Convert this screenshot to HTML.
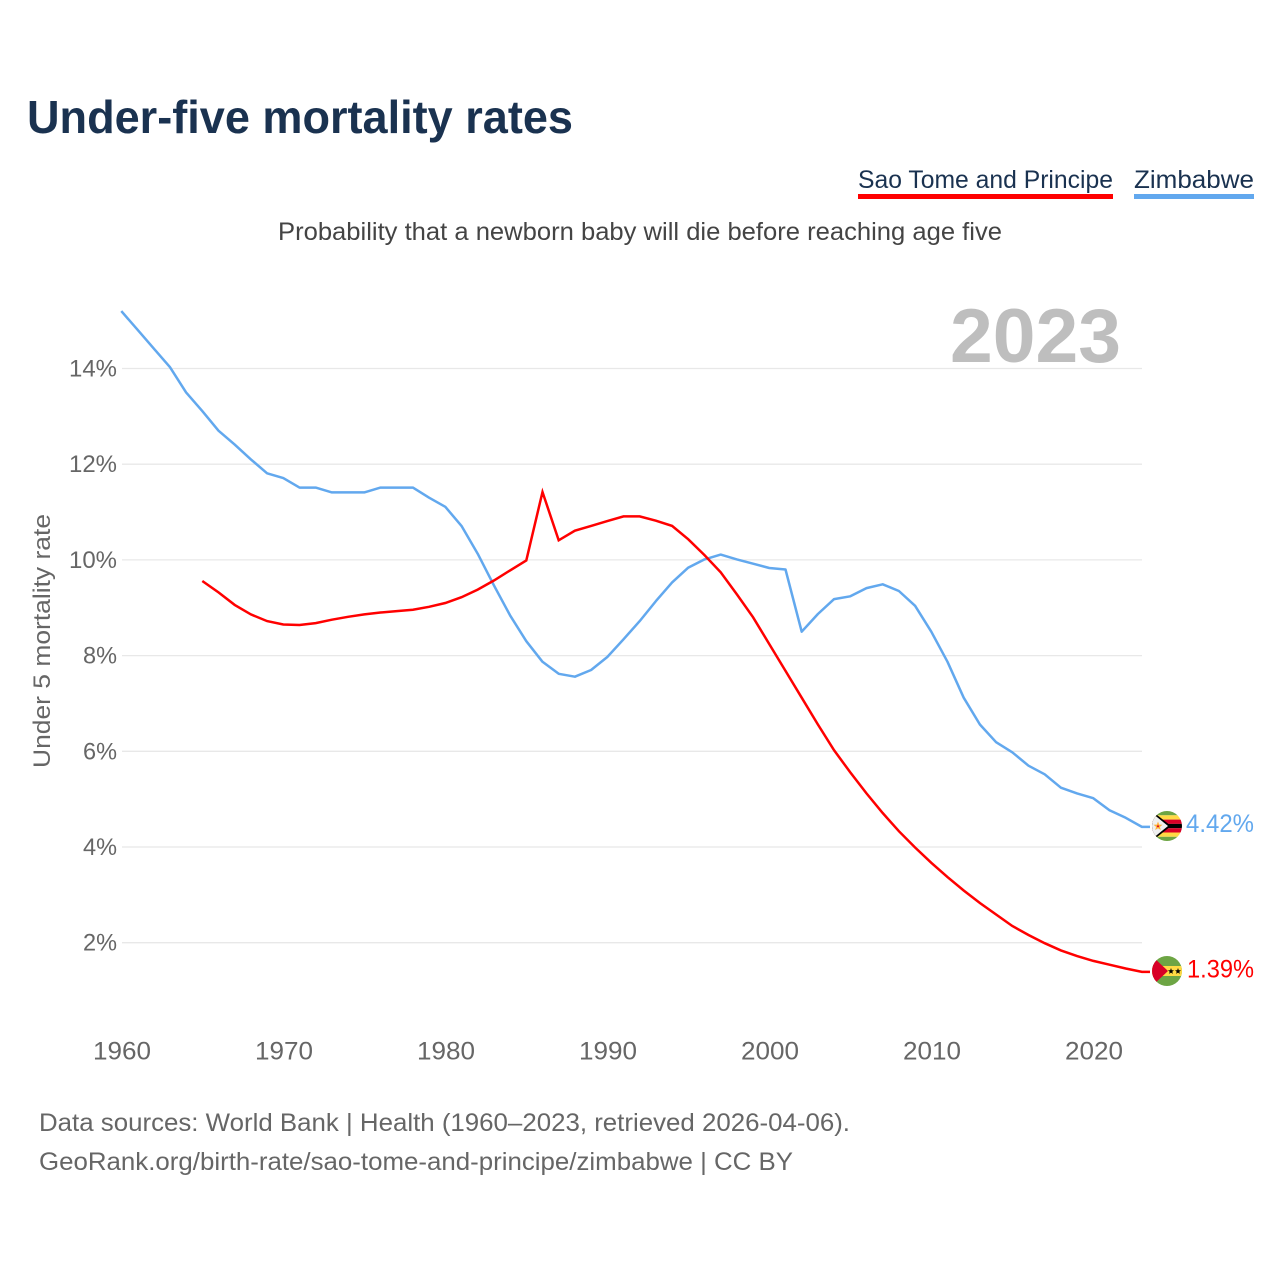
<!DOCTYPE html>
<html lang="en">
<head>
<meta charset="utf-8">
<title>Under-five mortality rates</title>
<style>
html,body{margin:0;padding:0;background:#fff;width:1280px;height:1280px;overflow:hidden}
svg{display:block}
text{font-family:"Liberation Sans",sans-serif}
</style>
</head>
<body>
<svg id="chart" xmlns="http://www.w3.org/2000/svg" width="1280" height="1280" viewBox="0 0 1280 1280">
  <defs>
    <clipPath id="clip-zw"><circle cx="1167" cy="826" r="15"/></clipPath>
    <clipPath id="clip-st"><circle cx="1167" cy="971" r="15"/></clipPath>
  </defs>
  <text x="27" y="133" font-size="46" font-weight="700" fill="#1a3250" textLength="546" lengthAdjust="spacingAndGlyphs">Under-five mortality rates</text>

  <g>
    <text x="858" y="188" font-size="25" fill="#1a3250" textLength="255" lengthAdjust="spacingAndGlyphs">Sao Tome and Principe</text>
    <rect x="858" y="194" width="255" height="5" fill="#ff0000"/>
  </g>
  <g>
    <text x="1134" y="188" font-size="25" fill="#1a3250" textLength="120" lengthAdjust="spacingAndGlyphs">Zimbabwe</text>
    <rect x="1134" y="194" width="120" height="5" fill="#62a8ee"/>
  </g>

  <text x="278" y="240" font-size="25" fill="#444444" textLength="724" lengthAdjust="spacingAndGlyphs">Probability that a newborn baby will die before reaching age five</text>

  <g id="grid"></g>
  <g id="y-ticks"></g>
  <g id="x-ticks"></g>

  <text x="950" y="362" font-size="76" font-weight="700" fill="#bebebe" textLength="171" lengthAdjust="spacingAndGlyphs">2023</text>

  <text transform="translate(50,641) rotate(-90)" text-anchor="middle" font-size="24" fill="#666666" textLength="254" lengthAdjust="spacingAndGlyphs">Under 5 mortality rate</text>

  <g id="series"></g>

  <g clip-path="url(#clip-zw)">
    <rect x="1152" y="811" width="30" height="30" fill="#ffffff"/>
    <rect x="1152" y="811" width="30" height="4.3" fill="#6da544"/>
    <rect x="1152" y="815.3" width="30" height="4.3" fill="#ffda44"/>
    <rect x="1152" y="819.6" width="30" height="4.3" fill="#d80027"/>
    <rect x="1152" y="823.9" width="30" height="4.3" fill="#000000"/>
    <rect x="1152" y="828.2" width="30" height="4.3" fill="#d80027"/>
    <rect x="1152" y="832.5" width="30" height="4.3" fill="#ffda44"/>
    <rect x="1152" y="836.8" width="30" height="4.2" fill="#6da544"/>
    <polygon points="1152,811 1171,826 1152,841" fill="#000000"/>
    <polygon points="1152,813 1168,826 1152,839" fill="#f0f0f0"/>
    <polygon points="1158,821.5 1159.2,824.6 1162.5,824.8 1159.9,826.9 1160.8,830 1158,828.3 1155.2,830 1156.1,826.9 1153.5,824.8 1156.8,824.6" fill="#ffb03b"/>
    <circle cx="1158" cy="826.2" r="1" fill="#d80027"/>
  </g>
  <g clip-path="url(#clip-st)">
    <rect x="1152" y="956" width="30" height="30" fill="#6da544"/>
    <rect x="1152" y="966" width="30" height="10" fill="#ffda44"/>
    <polygon points="1152,956 1168,971 1152,986" fill="#d80027"/>
    <polygon points="1171,968 1171.8,970.2 1174,970.3 1172.3,971.7 1172.9,973.9 1171,972.6 1169.1,973.9 1169.7,971.7 1168,970.3 1170.2,970.2" fill="#000000"/>
    <polygon points="1178,968 1178.8,970.2 1181,970.3 1179.3,971.7 1179.9,973.9 1178,972.6 1176.1,973.9 1176.7,971.7 1175,970.3 1177.2,970.2" fill="#000000"/>
  </g>

  <text x="1186" y="832" font-size="25" fill="#62a8ee" textLength="68" lengthAdjust="spacingAndGlyphs">4.42%</text>
  <text x="1187" y="977.5" font-size="25" fill="#ff0000" textLength="67" lengthAdjust="spacingAndGlyphs">1.39%</text>

  <text x="39" y="1131" font-size="25" fill="#666666" textLength="811" lengthAdjust="spacingAndGlyphs">Data sources: World Bank | Health (1960–2023, retrieved 2026-04-06).</text>
  <text x="39" y="1170" font-size="25" fill="#666666" textLength="754" lengthAdjust="spacingAndGlyphs">GeoRank.org/birth-rate/sao-tome-and-principe/zimbabwe | CC BY</text>
</svg>
<script>
var yTickValues = [2, 4, 6, 8, 10, 12, 14];
var yTickLabels = ['2%', '4%', '6%', '8%', '10%', '12%', '14%'];
var xTickLabels = ['1960', '1970', '1980', '1990', '2000', '2010', '2020'];
var zimbabweStartYear = 1960;
var zimbabweValues = [15.2, 14.81, 14.42, 14.03, 13.5, 13.11, 12.7, 12.41, 12.1, 11.81,
  11.71, 11.51, 11.51, 11.41, 11.41, 11.41, 11.51, 11.51, 11.51, 11.3,
  11.11, 10.71, 10.13, 9.47, 8.84, 8.3, 7.87, 7.62, 7.56, 7.7,
  7.97, 8.34, 8.72, 9.14, 9.53, 9.84, 10.01, 10.11, 10.01, 9.92,
  9.83, 9.8, 8.5, 8.87, 9.18, 9.24, 9.41, 9.49, 9.35, 9.04,
  8.5, 7.87, 7.12, 6.56, 6.19, 5.98, 5.7, 5.52, 5.24, 5.12,
  5.02, 4.77, 4.61, 4.42];
var saoTomeStartYear = 1965;
var saoTomeValues = [9.56, 9.32, 9.06, 8.86, 8.72, 8.65, 8.64, 8.68, 8.75, 8.81,
  8.86, 8.9, 8.93, 8.96, 9.02, 9.1, 9.22, 9.38, 9.57, 9.78,
  9.99, 11.42, 10.41, 10.61, 10.71, 10.81, 10.91, 10.91, 10.82, 10.71,
  10.43, 10.1, 9.74, 9.28, 8.8, 8.24, 7.68, 7.12, 6.56, 6.02,
  5.56, 5.12, 4.71, 4.33, 3.99, 3.67, 3.37, 3.09, 2.83, 2.59,
  2.35, 2.16, 1.99, 1.84, 1.72, 1.62, 1.54, 1.46, 1.39];

function xScale(year) { return 121.3 + (year - 1960) * 16.2; }
function yScale(value) { return 942.7 - (value - 2) * 47.85; }

var NS = 'http://www.w3.org/2000/svg';
var gridGroup = document.getElementById('grid');
var yGroup = document.getElementById('y-ticks');
var xGroup = document.getElementById('x-ticks');
var seriesGroup = document.getElementById('series');

yTickValues.forEach(function (v, i) {
  var line = document.createElementNS(NS, 'line');
  line.setAttribute('x1', 122);
  line.setAttribute('x2', 1142);
  line.setAttribute('y1', yScale(v));
  line.setAttribute('y2', yScale(v));
  line.setAttribute('stroke', '#e8e8e8');
  line.setAttribute('stroke-width', 1.3);
  
  
  gridGroup.appendChild(line);

  var label = document.createElementNS(NS, 'text');
  label.setAttribute('x', 117);
  label.setAttribute('y', yScale(v) + 8);
  label.setAttribute('text-anchor', 'end');
  label.setAttribute('font-size', 24);
  label.setAttribute('fill', '#666666');
  label.setAttribute('textLength', yTickLabels[i].length === 3 ? 48 : 34);
  label.setAttribute('lengthAdjust', 'spacingAndGlyphs');
  
  
  label.textContent = yTickLabels[i];
  yGroup.appendChild(label);
});

xTickLabels.forEach(function (t) {
  var label = document.createElementNS(NS, 'text');
  label.setAttribute('x', xScale(Number(t)) + 0.7);
  label.setAttribute('y', 1059.5);
  label.setAttribute('text-anchor', 'middle');
  label.setAttribute('font-size', 25);
  label.setAttribute('fill', '#666666');
  label.setAttribute('textLength', 58);
  label.setAttribute('lengthAdjust', 'spacingAndGlyphs');
  
  
  label.textContent = t;
  xGroup.appendChild(label);
});

function pointsFor(startYear, values) {
  return values.map(function (v, i) {
    return xScale(startYear + i).toFixed(1) + ',' + yScale(v).toFixed(1);
  });
}

var zimbabwePoints = pointsFor(zimbabweStartYear, zimbabweValues);
var zimbabweLast = zimbabweValues[zimbabweValues.length - 1];
zimbabwePoints.push('1150,' + yScale(zimbabweLast).toFixed(1));
var zimbabweLine = document.createElementNS(NS, 'polyline');
zimbabweLine.setAttribute('points', zimbabwePoints.join(' '));
zimbabweLine.setAttribute('fill', 'none');
zimbabweLine.setAttribute('stroke', '#62a8ee');
zimbabweLine.setAttribute('stroke-width', 2.5);
zimbabweLine.setAttribute('stroke-linejoin', 'round');


seriesGroup.appendChild(zimbabweLine);

var saoTomePoints = pointsFor(saoTomeStartYear, saoTomeValues);
var saoTomeLast = saoTomeValues[saoTomeValues.length - 1];
saoTomePoints.push('1150,' + yScale(saoTomeLast).toFixed(1));
var saoTomeLine = document.createElementNS(NS, 'polyline');
saoTomeLine.setAttribute('points', saoTomePoints.join(' '));
saoTomeLine.setAttribute('fill', 'none');
saoTomeLine.setAttribute('stroke', '#ff0000');
saoTomeLine.setAttribute('stroke-width', 2.5);


seriesGroup.appendChild(saoTomeLine);
</script>
</body>
</html>
